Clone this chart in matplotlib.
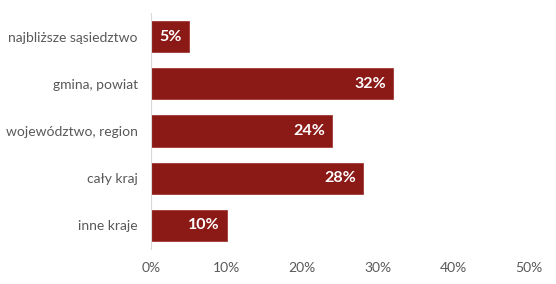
import matplotlib
matplotlib.use("Agg")
import matplotlib.pyplot as plt
from matplotlib.ticker import FuncFormatter

categories = ["najbliższe sąsiedztwo", "gmina, powiat", "województwo, region", "cały kraj", "inne kraje"]
values = [5, 32, 24, 28, 10]
xticks = [0, 10, 20, 30, 40, 50]

plt.rcParams['font.family'] = ['Lato', 'DejaVu Sans']

fig = plt.figure(figsize=(5.56, 2.84), dpi=100)
ax = fig.add_axes([0.2716, 0.123, 0.6798, 0.831])
y = list(range(len(categories)))
ax.barh(y, values, height=0.66, color='#8B1A17', edgecolor='#A33A35', linewidth=0.6)
for yi, v in zip(y, values):
    ax.text(v - 0.9, yi, f"{v}%", ha='right', va='center', color='white',
            fontsize=11.5, fontweight='bold')
ax.set_yticks(y)
ax.set_yticklabels(categories)
ax.set_ylim(len(categories) - 0.5, -0.5)
ax.set_xlim(0, 50)
ax.set_xticks(xticks)
ax.xaxis.set_major_formatter(FuncFormatter(lambda v, p: f"{v:.0f}%"))
for s in ['top', 'right', 'bottom']:
    ax.spines[s].set_visible(False)
ax.spines['left'].set_color('#D9D9D9')
ax.tick_params(axis='both', length=0, labelsize=10, colors='#595959')
ax.tick_params(axis='y', pad=9.5)
ax.tick_params(axis='x', pad=9)
fig.savefig("out.png", dpi=100)
